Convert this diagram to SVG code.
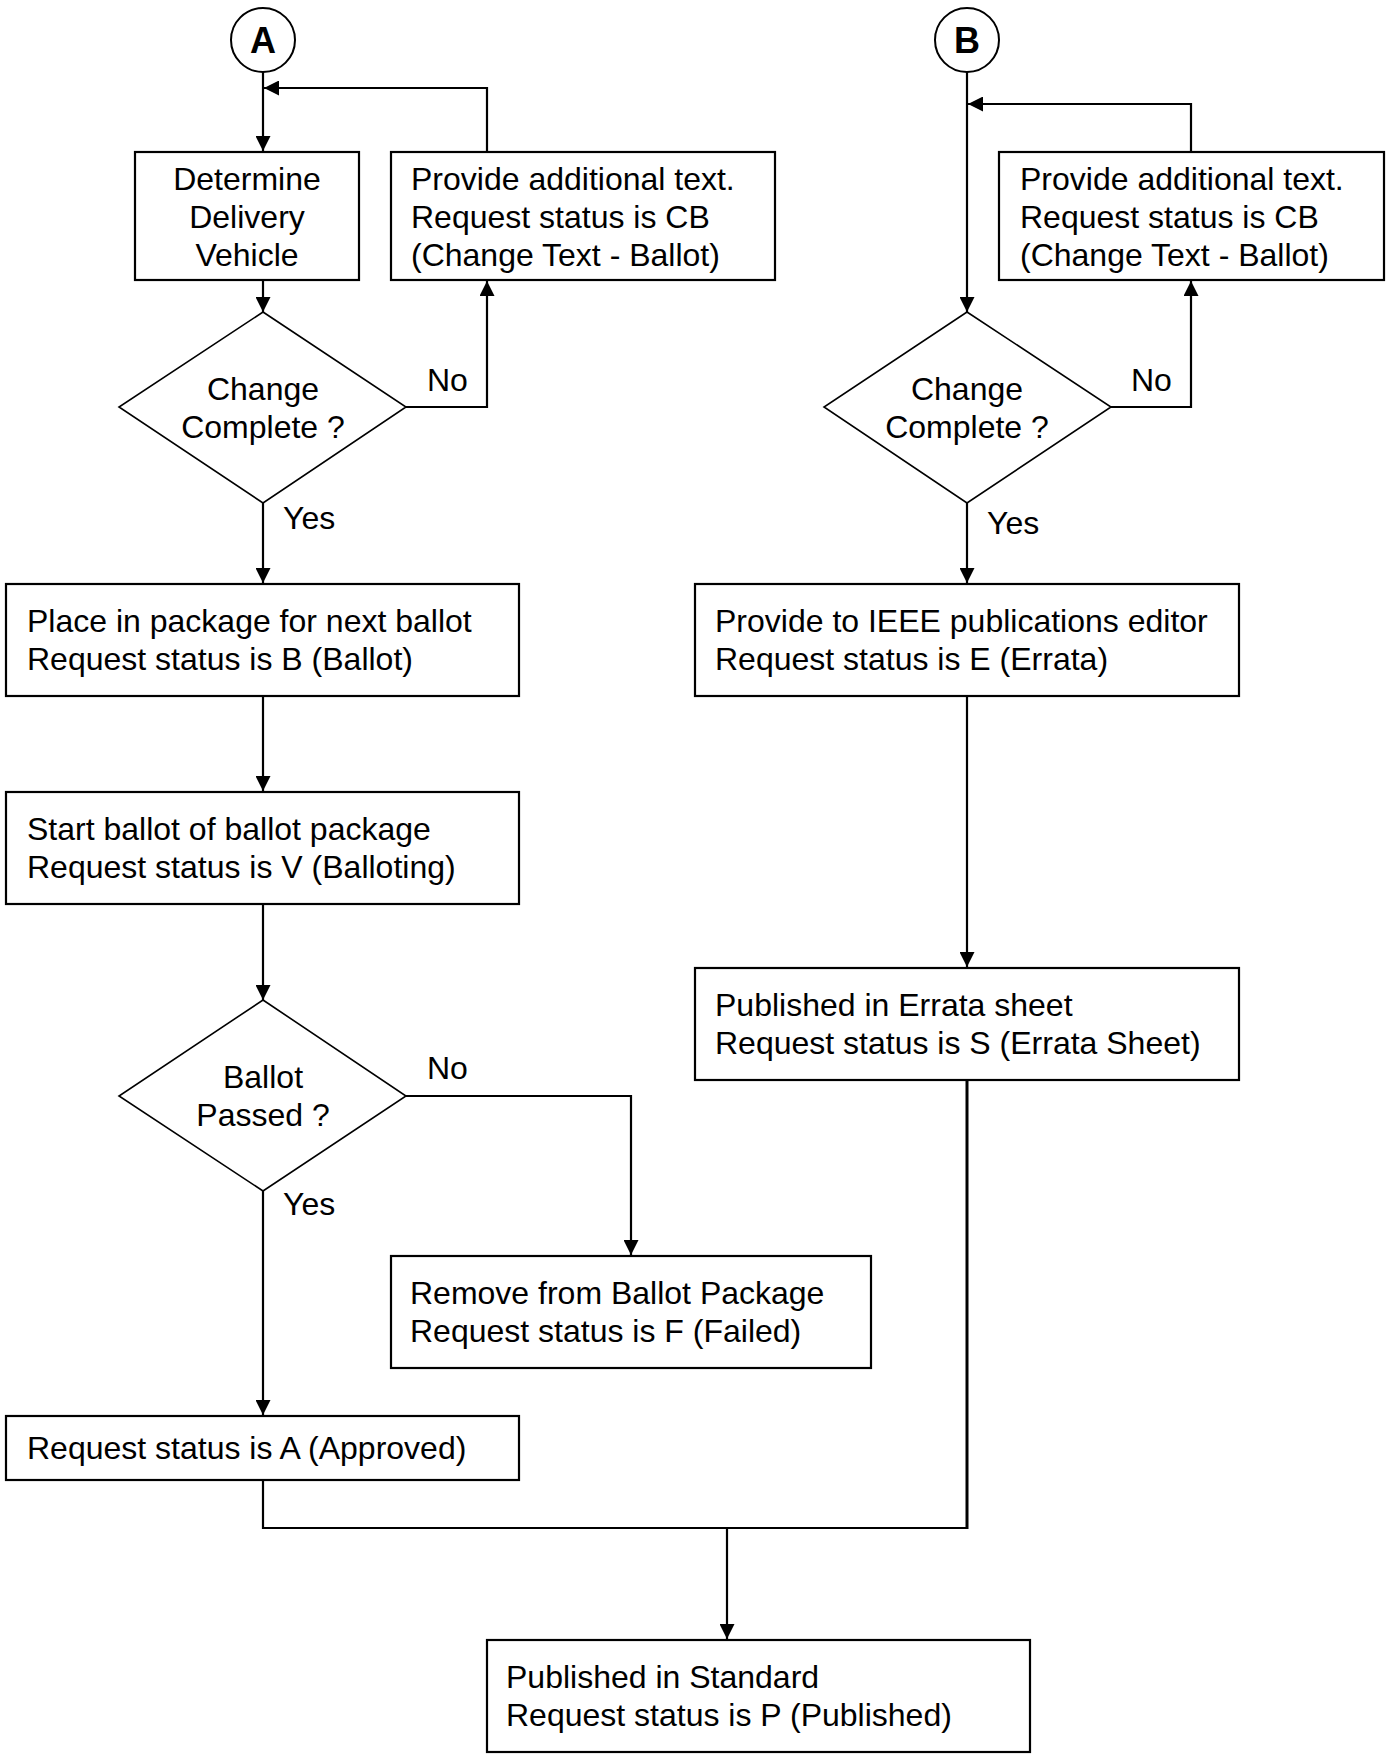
<svg xmlns="http://www.w3.org/2000/svg" width="1389" height="1754" viewBox="0 0 1389 1754">
<style>
.box{fill:#fff;stroke:#000;stroke-width:2.2}
.dia{fill:#fff;stroke:#000;stroke-width:1.6}
.t{font-family:"Liberation Sans",Arial,sans-serif;font-size:32px;fill:#000}
.c{text-anchor:middle}
.lbl{font-family:"Liberation Sans",Arial,sans-serif;font-size:32px;fill:#000}
.big{font-family:"Liberation Sans",Arial,sans-serif;font-size:36px;font-weight:bold;text-anchor:middle}
.ln{fill:none;stroke:#000;stroke-width:2.2}
</style>
<defs>
<marker id="ah" markerUnits="userSpaceOnUse" markerWidth="15" markerHeight="15" refX="15" refY="7.5" orient="auto">
<path d="M0,0 L15,7.5 L0,15 z" fill="#000"/>
</marker>
</defs>
<rect width="1389" height="1754" fill="#fff"/>
<g id="connectors">
<path class="ln" d="M263,72 V151" marker-end="url(#ah)"/>
<path class="ln" d="M487,152 V88 H264" marker-end="url(#ah)"/>
<path class="ln" d="M263,280 V312" marker-end="url(#ah)"/>
<path class="ln" d="M406,407 H487 V281" marker-end="url(#ah)"/>
<path class="ln" d="M263,503 V583" marker-end="url(#ah)"/>
<path class="ln" d="M263,696 V791" marker-end="url(#ah)"/>
<path class="ln" d="M263,904 V1000" marker-end="url(#ah)"/>
<path class="ln" d="M406,1096 H631 V1255" marker-end="url(#ah)"/>
<path class="ln" d="M263,1191 V1415" marker-end="url(#ah)"/>
<path class="ln" d="M263,1480 V1528 H967"/>
<path class="ln" d="M967,1529 V1080" style="stroke-width:3"/>
<path class="ln" d="M727,1528 V1639" marker-end="url(#ah)"/>
<path class="ln" d="M967,72 V312" marker-end="url(#ah)"/>
<path class="ln" d="M1191,152 V104 H968" marker-end="url(#ah)"/>
<path class="ln" d="M1111,407 H1191 V281" marker-end="url(#ah)"/>
<path class="ln" d="M967,503 V583" marker-end="url(#ah)"/>
<path class="ln" d="M967,696 V967" marker-end="url(#ah)"/>
</g>
<g id="labels">
<text class="lbl" x="427" y="391">No</text>
<text class="lbl" x="1131" y="391">No</text>
<text class="lbl" x="283" y="529">Yes</text>
<text class="lbl" x="987" y="534">Yes</text>
<text class="lbl" x="427" y="1079">No</text>
<text class="lbl" x="283" y="1215">Yes</text>
</g>
<g id="startA">
<circle cx="263" cy="40" r="32" fill="#fff" stroke="#000" stroke-width="2"/>
<text class="big" x="263" y="53">A</text>
</g>
<g id="startB">
<circle cx="967" cy="40" r="32" fill="#fff" stroke="#000" stroke-width="2"/>
<text class="big" x="967" y="53">B</text>
</g>
<g id="determine">
<rect class="box" x="135" y="152" width="224" height="128"/>
<text class="t c" x="247" y="190">Determine</text>
<text class="t c" x="247" y="228">Delivery</text>
<text class="t c" x="247" y="266">Vehicle</text>
</g>
<g id="provideA">
<rect class="box" x="391" y="152" width="384" height="128"/>
<text class="t" x="411" y="190">Provide additional text.</text>
<text class="t" x="411" y="228">Request status is CB</text>
<text class="t" x="411" y="266">(Change Text - Ballot)</text>
</g>
<g id="changeA">
<polygon class="dia" points="263,312 406,407 263,503 119,407"/>
<text class="t c" x="263" y="400">Change</text>
<text class="t c" x="263" y="438">Complete ?</text>
</g>
<g id="place">
<rect class="box" x="6" y="584" width="513" height="112"/>
<text class="t" x="27" y="632">Place in package for next ballot</text>
<text class="t" x="27" y="670">Request status is B (Ballot)</text>
</g>
<g id="startballot">
<rect class="box" x="6" y="792" width="513" height="112"/>
<text class="t" x="27" y="840">Start ballot of ballot package</text>
<text class="t" x="27" y="878">Request status is V (Balloting)</text>
</g>
<g id="ballotpassed">
<polygon class="dia" points="263,1000 406,1096 263,1191 119,1096"/>
<text class="t c" x="263" y="1088">Ballot</text>
<text class="t c" x="263" y="1126">Passed ?</text>
</g>
<g id="remove">
<rect class="box" x="391" y="1256" width="480" height="112"/>
<text class="t" x="410" y="1304">Remove from Ballot Package</text>
<text class="t" x="410" y="1342">Request status is F (Failed)</text>
</g>
<g id="approved">
<rect class="box" x="6" y="1416" width="513" height="64"/>
<text class="t" x="27" y="1459">Request status is A (Approved)</text>
</g>
<g id="provideB">
<rect class="box" x="999" y="152" width="385" height="128"/>
<text class="t" x="1020" y="190">Provide additional text.</text>
<text class="t" x="1020" y="228">Request status is CB</text>
<text class="t" x="1020" y="266">(Change Text - Ballot)</text>
</g>
<g id="changeB">
<polygon class="dia" points="967,312 1111,407 967,503 824,407"/>
<text class="t c" x="967" y="400">Change</text>
<text class="t c" x="967" y="438">Complete ?</text>
</g>
<g id="ieee">
<rect class="box" x="695" y="584" width="544" height="112"/>
<text class="t" x="715" y="632">Provide to IEEE publications editor</text>
<text class="t" x="715" y="670">Request status is E (Errata)</text>
</g>
<g id="errata">
<rect class="box" x="695" y="968" width="544" height="112"/>
<text class="t" x="715" y="1016">Published in Errata sheet</text>
<text class="t" x="715" y="1054">Request status is S (Errata Sheet)</text>
</g>
<g id="standard">
<rect class="box" x="487" y="1640" width="543" height="112"/>
<text class="t" x="506" y="1688">Published in Standard</text>
<text class="t" x="506" y="1726">Request status is P (Published)</text>
</g>
</svg>
